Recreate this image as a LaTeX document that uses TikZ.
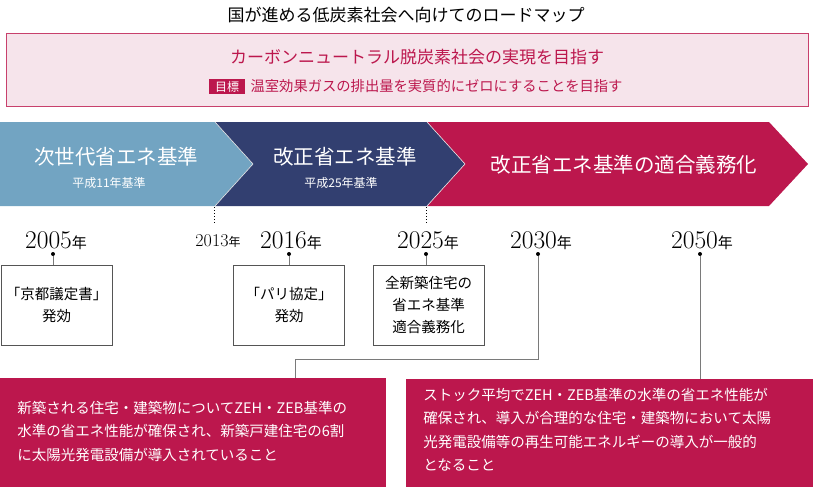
\documentclass[tikz,border=0pt]{standalone}
\usepackage{fontspec}
\newfontfamily\cjk{Noto Sans CJK JP}
\usetikzlibrary{positioning}
\definecolor{pinkbg}{HTML}{F6E4EB}
\definecolor{pinkline}{HTML}{C8406C}
\definecolor{crimson}{HTML}{BC174D}
\definecolor{skyblue}{HTML}{72A4C2}
\definecolor{navy}{HTML}{323F70}
\definecolor{boxline}{HTML}{555555}
\definecolor{stemline}{HTML}{7A7A7A}
\tikzset{
  stagetitle/.style={inner sep=0pt,text=white,font=\cjk\fontsize{20.5}{24}\selectfont},
  stagesub/.style={inner sep=0pt,text=white,font=\cjk\fontsize{12}{14}\selectfont},
  yearlabel/.style={inner sep=0pt,anchor=base,font=\fontsize{25.5}{28}\selectfont},
  yeardot/.style={circle,fill=black,inner sep=0pt,minimum size=4pt},
  eventbox/.style={draw=boxline,line width=.8pt,fill=white,minimum width=111pt,minimum height=80pt,
    inner sep=0pt,align=center,font=\cjk\fontsize{14.5}{22}\selectfont},
  targetbox/.style={fill=crimson,text=white,anchor=north west,inner sep=0pt,align=left,
    font=\cjk\fontsize{14.5}{23.3}\selectfont},
  stem/.style={draw=stemline,line width=1pt}
}
\newcommand{\nen}[1][15]{{\cjk\fontsize{#1}{#1}\selectfont 年}}
\begin{document}
\begin{tikzpicture}[x=1pt,y=-1pt,line width=.6pt]
\path[use as bounding box] (0,0) rectangle (813,487);
% title and goal
\node[inner sep=0pt,font=\cjk\fontsize{17}{20}\selectfont] (title) at (406,15) {国が進める低炭素社会へ向けてのロードマップ};
\node[draw=pinkline,fill=pinkbg,line width=.8pt,minimum width=802pt,minimum height=73pt,inner sep=0pt] (goal) at (407,69.5) {};
\node[inner sep=0pt,text=crimson,font=\cjk\fontsize{17}{20}\selectfont] (vision) at (417,57) {カーボンニュートラル脱炭素社会の実現を目指す};
\node[fill=crimson,text=white,minimum width=36pt,minimum height=15pt,inner sep=0pt,font=\cjk\fontsize{12}{14}\selectfont] (tag) at (227,86.5) {目標};
\node[inner sep=0pt,right=5pt of tag,text=crimson,font=\cjk\fontsize{14.3}{17}\selectfont] (aim) {温室効果ガスの排出量を実質的にゼロにすることを目指す};
% stage arrows
\fill[skyblue] (0,122) -- (215,122) -- (253,164) -- (215,206) -- (0,206) -- cycle;
\fill[navy] (215,122) -- (427,122) -- (465,164) -- (427,206) -- (215,206) -- (253,164) -- cycle;
\fill[crimson] (427,122) -- (769,122) -- (808,164) -- (769,206) -- (427,206) -- (465,164) -- cycle;
\draw[white!80!gray] (215,122) -- (253,164) -- (215,206);
\draw[white!80!gray] (427,122) -- (465,164) -- (427,206);
\node[stagetitle] (nextgen) at (116,157) {次世代省エネ基準};
\node[stagesub] (h11) at (109,183) {平成11年基準};
\node[stagetitle] (revised) at (345,157) {改正省エネ基準};
\node[stagesub] (h25) at (341,183) {平成25年基準};
\node[stagetitle] (mandate) at (624,165) {改正省エネ基準の適合義務化};
% dotted marks
\coordinate (m2013) at (214,207);
\coordinate (m2013e) at (214,224);
\coordinate (m2025) at (426,207);
\coordinate (m2025e) at (426,224);
\draw[dotted,line width=1pt] (m2013) -- (m2013e);
\draw[dotted,line width=1pt] (m2025) -- (m2025e);
% years
\node[yearlabel] (y2005) at (56,248) {2005\nen};
\node[yearlabel,font=\fontsize{18}{20}\selectfont] (y2013) at (218,246) {2013\nen[12]};
\node[yearlabel] (y2016) at (291,248) {2016\nen};
\node[yearlabel] (y2025) at (428,248) {2025\nen};
\node[yearlabel] (y2030) at (541,248) {2030\nen};
\node[yearlabel] (y2050) at (702,248) {2050\nen};
\node[yeardot] (d2005) at (53,254) {};
\node[yeardot] (d2016) at (289,254) {};
\node[yeardot] (d2025) at (426,254) {};
\node[yeardot] (d2030) at (538,254) {};
\node[yeardot] (d2050) at (700,254) {};
% events
\node[eventbox] (kyoto) at (56.5,305) {「京都議定書」\\発効};
\node[eventbox] (paris) at (289,305) {「パリ協定」\\発効};
\node[eventbox] (allnew) at (428.5,305) {全新築住宅の\\省エネ基準\\適合義務化};
\draw[stem] (d2005) -- (d2005 |- kyoto.north);
\draw[stem] (d2016) -- (d2016 |- paris.north);
\draw[stem] (d2025) -- (d2025 |- allnew.north);
% targets
\fill[crimson] (0,378) rectangle (386,487);
\fill[crimson] (406,379) rectangle (813,487);
\node[targetbox] (t2030) at (17,401) {新築される住宅・建築物についてZEH・ZEB基準の\\水準の省エネ性能が確保され、新築戸建住宅の6割\\に太陽光発電設備が導入されていること};
\node[targetbox] (t2050) at (423,388) {ストック平均でZEH・ZEB基準の水準の省エネ性能が\\確保され、導入が合理的な住宅・建築物において太陽\\光発電設備等の再生可能エネルギーの導入が一般的\\となること};
\coordinate (bend) at (295,359);
\draw[stem] (d2030) |- (bend) -- (bend |- 0,378);
\draw[stem] (d2050) -- (d2050 |- 0,379);
\end{tikzpicture}
\end{document}
